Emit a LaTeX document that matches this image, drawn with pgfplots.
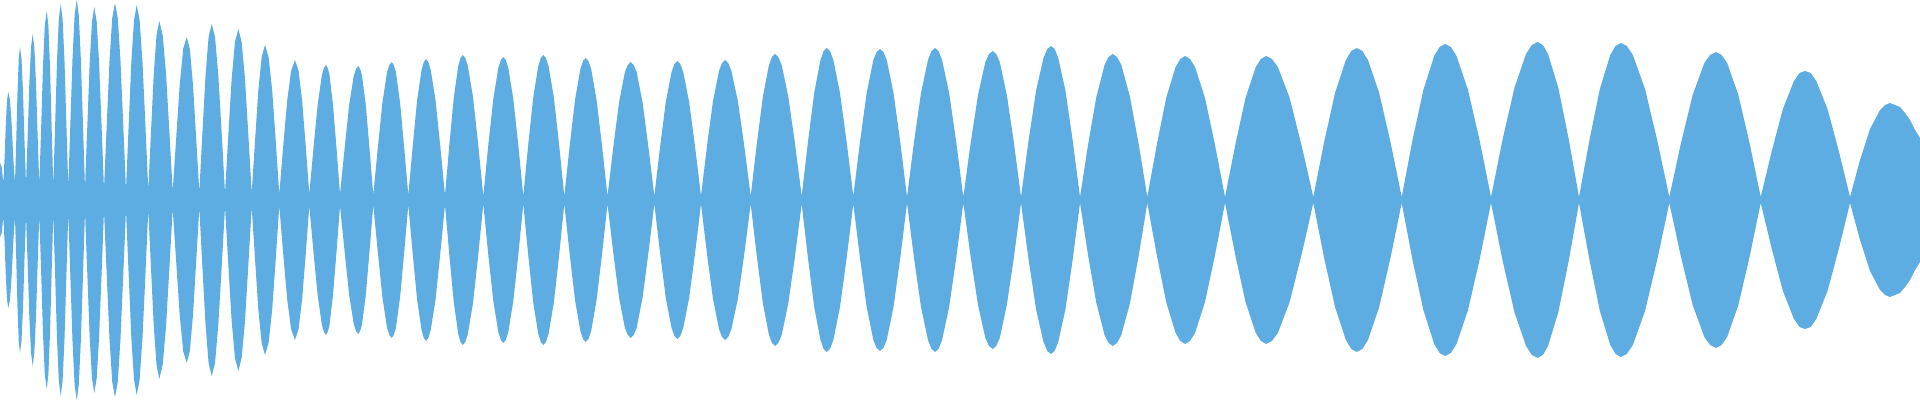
\documentclass[border=0pt]{standalone}
\usepackage{pgfplots}
\pgfplotsset{compat=1.18}
\usepgfplotslibrary{fillbetween}
\usepackage{pgfplotstable}
\definecolor{wave}{HTML}{5DADE2}
\pgfplotstableread{
x y
0 37
1.7 33
3.3 17
4.55 41
5.8 76
7.05 100
8.3 108
9.98 100
11.65 76
13.33 41
15 17
16.25 59
17.5 108
18.75 141
20 153
21.5 141
23 108
24.5 59
26 16
27.68 64
29.35 117
31.03 153
32.7 166
34.35 153
36 117
37.65 64
39.3 15
41.15 72
43 134
44.85 175
46.7 189
48.35 175
50 134
51.65 72
53.3 14
55.15 75
57 139
58.85 181
60.7 196
62.6 181
64.5 139
66.4 75
68.3 13
70.4 77
72.5 141
74.6 185
76.7 200
78.78 185
80.85 141
82.93 77
85 12
87.33 74
89.65 136
91.98 178
94.3 193
96.73 178
99.15 136
101.58 74
104 11
106.75 75
109.5 139
112.25 182
115 197
117.75 182
120.5 139
123.25 75
126 10
128.68 75
131.35 138
134.03 180
136.7 195
139.6 180
142.5 138
145.4 75
148.3 10
151.05 69
153.8 127
156.55 165
159.3 179
162.65 165
166 127
169.35 69
172.7 9
176.2 62
179.7 115
183.2 151
186.7 163
189.85 151
193 115
196.15 62
199.3 8
202.4 67
205.5 124
208.6 163
211.7 176
215.03 163
218.35 124
221.68 67
225 7
228.33 65
231.65 121
234.98 158
238.3 171
241.65 158
245 121
248.35 65
251.7 7
255.03 59
258.35 110
261.68 143
265 155
268.58 143
272.15 110
275.73 59
279.3 6
283.23 54
287.15 99
291.08 129
295 140
298.58 129
302.15 99
305.73 54
309.3 6
313.48 52
317.65 95
321.83 125
323.91 132
326 135
327.75 132
329.5 125
333 95
336.5 52
340 6
344.58 51
349.15 95
353.73 124
356.01 131
358.3 134
360.18 131
362.05 124
365.8 95
369.55 51
373.3 5
377.9 53
382.5 98
387.1 128
389.4 135
391.7 138
393.78 135
395.85 128
400 98
404.15 53
408.3 5
412.73 54
417.15 100
421.58 130
423.79 138
426 141
428.38 138
430.75 130
435.5 100
440.25 54
445 5
449.43 56
453.85 103
458.28 134
460.49 142
462.7 145
465.28 142
467.85 134
473 103
478.15 56
483.3 4
488.3 55
493.3 101
498.3 132
500.8 140
503.3 143
505.8 140
508.3 132
513.3 101
518.3 55
523.3 4
528.3 56
533.3 103
538.3 134
540.8 142
543.3 145
545.93 142
548.55 134
553.8 103
559.05 56
564.3 4
569.65 54
575 100
580.35 131
583.02 139
585.7 142
588.43 139
591.15 131
596.6 100
602.05 54
607.5 4
613.3 53
619.1 98
624.9 128
627.8 135
630.7 138
633.65 135
636.6 128
642.5 98
648.4 53
654.3 4
660.05 53
665.8 98
671.55 128
674.42 136
677.3 139
680.26 136
683.23 128
689.15 98
695.08 53
701 4
707 54
713 99
719 129
722 137
725 140
728.21 137
731.43 129
737.85 99
744.28 54
750.7 4
756.78 56
762.85 103
768.93 135
771.96 143
775 146
778.34 143
781.68 135
788.35 103
795.03 56
801.7 4
807.95 58
814.2 107
820.45 140
823.58 149
826.7 152
830.03 149
833.35 140
840 107
846.65 58
853.3 4
859.98 58
866.65 107
873.33 140
876.66 148
880 151
883.38 148
886.75 140
893.5 107
900.25 58
907 3
914 58
921 107
928 140
931.5 149
935 152
938.54 149
942.08 140
949.15 107
956.23 58
963.3 3
970.65 57
978 105
985.35 138
989.03 146
992.7 149
996.24 146
999.78 138
1006.85 105
1013.93 57
1021 3
1028.5 59
1036 109
1043.5 142
1047.25 151
1051 154
1054.63 151
1058.25 142
1065.5 109
1072.75 59
1080 3
1088.18 56
1096.35 103
1104.53 135
1108.61 143
1112.7 146
1117.03 143
1121.35 135
1130 103
1138.65 56
1147.3 3
1156.73 55
1166.15 102
1175.58 133
1180.29 141
1185 144
1190 141
1195 133
1205 102
1215 55
1225 3
1235.25 55
1245.5 102
1255.75 133
1260.88 141
1266 144
1271.91 141
1277.83 133
1289.65 102
1301.48 55
1313.3 3
1324.15 58
1335 107
1345.85 140
1351.28 149
1356.7 152
1362.33 149
1367.95 140
1379.2 107
1390.45 58
1401.7 3
1412.53 60
1423.35 110
1434.18 144
1439.59 153
1445 156
1450.75 153
1456.5 144
1468 110
1479.5 60
1491 3
1502.68 61
1514.35 112
1526.03 146
1531.86 155
1537.7 158
1542.86 155
1548.03 146
1558.35 112
1568.68 61
1579 3
1589.43 60
1599.85 111
1610.28 145
1615.49 154
1620.7 157
1626.78 154
1632.85 145
1645 111
1657.15 60
1669.3 3
1680.98 57
1692.65 105
1704.33 137
1710.16 145
1716 148
1721.59 145
1727.18 137
1738.35 105
1749.53 57
1760.7 3
1771.78 49
1782.85 91
1793.93 119
1799.46 127
1805 129
1810.63 127
1816.25 119
1827.5 91
1838.75 49
1850 3
1860 40
1870 71
1880 90
1885 95
1890 97
1895 95
1900 93
1905 87
1910 80
1915 70
1920 62
}\envtable
\begin{document}
\begin{tikzpicture}
\begin{axis}[
  width=19.2cm, height=4cm, scale only axis,
  xmin=0, xmax=1920, ymin=-200, ymax=200,
  hide axis, clip=true]
\addplot[name path=U, draw=none] table[x=x, y=y] {\envtable};
\addplot[name path=L, draw=none] table[x=x, y expr=-\thisrow{y}] {\envtable};
\addplot[fill=wave, draw=none] fill between[of=U and L];
\path (rel axis cs:0,0) rectangle (rel axis cs:1,1);
\end{axis}
\end{tikzpicture}
\end{document}
